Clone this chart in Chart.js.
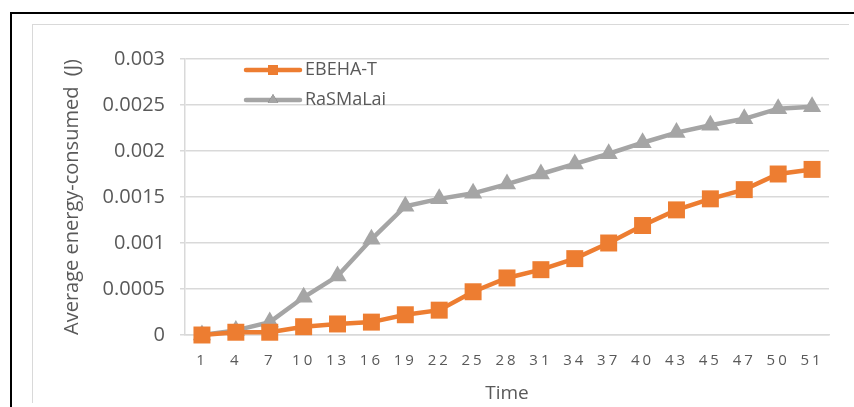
<!DOCTYPE html>
<html>
<head>
<meta charset="utf-8">
<script src="https://cdn.jsdelivr.net/npm/chart.js@4.4.1/dist/chart.umd.min.js"></script>
<style>
    body { margin: 0; background: #fff; }
    .frame { position: relative; width: 854px; height: 407px; overflow: hidden; }
    .outer { position: absolute; left: 10px; top: 12px; width: 900px; height: 450px; border-left: 2px solid #000; border-top: 2px solid #000; }
    .inner { position: absolute; left: 32px; top: 24px; width: 816px; height: 378px; border-left: 1px solid #d9d9d9; border-top: 1px solid #d9d9d9; }
    canvas { position: absolute; left: 0; top: 0; }
</style>
</head>
<body>
<div class="frame">
    <div class="outer"></div>
    <div class="inner"></div>
    <canvas id="myChart" width="854" height="407"></canvas>
</div>
<script>
const categories = ['1', '4', '7', '10', '13', '16', '19', '22', '25', '28', '31', '34', '37', '40', '43', '45', '47', '50', '51'];
const ebehaT = [0, 0.00003, 0.00003, 0.00009, 0.00012, 0.00014, 0.00022, 0.00027, 0.00047, 0.00062, 0.00071, 0.00083, 0.001, 0.00119, 0.00136, 0.00148, 0.00158, 0.00175, 0.0018];
const rasmalai = [0, 0.00005, 0.00014, 0.00041, 0.00064, 0.00104, 0.0014, 0.00148, 0.00154, 0.00164, 0.00175, 0.00186, 0.00197, 0.00209, 0.0022, 0.00228, 0.00235, 0.00246, 0.00248];
const yTicks = [0, 0.0005, 0.001, 0.0015, 0.002, 0.0025, 0.003];
const yTickLabels = ['0', '0.0005', '0.001', '0.0015', '0.002', '0.0025', '0.003'];

const textColor = '#595959';
const gridColor = '#d9d9d9';

// x tick labels are letter-spaced, drawn after datasets (ticks.z = 1)
const spacingPlugin = {
    id: 'spacing',
    afterDatasetsDraw(chart) { chart.ctx.letterSpacing = '3px'; },
    afterDraw(chart) { chart.ctx.letterSpacing = '0px'; }
};

// legend: line + marker inside the plot, top left
const legendPlugin = {
    id: 'lineLegend',
    afterDraw(chart) {
        const ctx = chart.ctx;
        const area = chart.chartArea;
        ctx.save();
        ctx.letterSpacing = '0px';
        chart.data.datasets.forEach((ds, i) => {
            const y = area.top + 11 + i * 30;
            const x0 = area.left + 61;
            const x1 = area.left + 115;
            ctx.strokeStyle = ds.borderColor;
            ctx.lineWidth = ds.borderWidth;
            ctx.lineCap = 'round';
            ctx.beginPath();
            ctx.moveTo(x0, y);
            ctx.lineTo(x1, y);
            ctx.stroke();
            Chart.helpers.drawPoint(ctx, {
                pointStyle: ds.pointStyle,
                radius: ds.pointStyle === 'rect' ? 7 : 6,
                borderWidth: 0,
                rotation: 0
            }, (x0 + x1) / 2, y);
            ctx.fillStyle = ds.borderColor;
            ctx.fill();
            ctx.fillStyle = textColor;
            ctx.font = '18px "Open Sans"';
            ctx.textBaseline = 'middle';
            ctx.textAlign = 'left';
            ctx.fillText(ds.label, x1 + 5, y);
        });
        ctx.restore();
    }
};

new Chart(document.getElementById('myChart'), {
    type: 'line',
    data: {
        labels: categories,
        datasets: [{
            label: 'EBEHA-T',
            data: ebehaT,
            borderColor: '#ed7d31',
            backgroundColor: '#ed7d31',
            borderWidth: 4.5,
            pointStyle: 'rect',
            pointRadius: 12,
            pointBorderWidth: 0,
            tension: 0,
            clip: false
        }, {
            label: 'RaSMaLai',
            data: rasmalai,
            borderColor: '#a5a5a5',
            backgroundColor: '#a5a5a5',
            borderWidth: 4.5,
            pointStyle: 'triangle',
            pointRadius: 10.5,
            pointBorderWidth: 0,
            tension: 0,
            clip: false
        }]
    },
    options: {
        responsive: false,
        animation: false,
        events: [],
        layout: { padding: { left: 50, top: 59, right: 25, bottom: 0 } },
        plugins: {
            legend: { display: false },
            tooltip: { enabled: false }
        },
        scales: {
            x: {
                offset: true,
                grid: { display: false, drawTicks: false },
                border: { display: true, color: gridColor, width: 1.5 },
                ticks: {
                    z: 1,
                    color: textColor,
                    font: { family: 'Open Sans', size: 15 },
                    padding: 17,
                    maxRotation: 0,
                    autoSkip: false
                },
                title: {
                    display: true,
                    text: 'Time',
                    color: textColor,
                    font: { family: 'Open Sans', size: 19 },
                    padding: { top: 0, bottom: 2 }
                },
                afterFit(scale) { scale.height = 72; }
            },
            y: {
                min: 0,
                max: 0.003,
                afterBuildTicks(scale) { scale.ticks = yTicks.map(v => ({ value: v })); },
                grid: { color: gridColor, lineWidth: 1.5, tickLength: 5 },
                border: { display: true, color: gridColor, width: 1.5 },
                ticks: {
                    color: textColor,
                    font: { family: 'Open Sans', size: 20 },
                    padding: 15,
                    callback: (v, i) => yTickLabels[i]
                },
                title: {
                    display: true,
                    text: 'Average energy-consumed  (J)',
                    color: textColor,
                    font: { family: 'Open Sans', size: 20 },
                    padding: { top: 10, bottom: 0 }
                },
                afterFit(scale) { scale.width = 135; }
            }
        }
    },
    plugins: [spacingPlugin, legendPlugin]
});
</script>
</body>
</html>
